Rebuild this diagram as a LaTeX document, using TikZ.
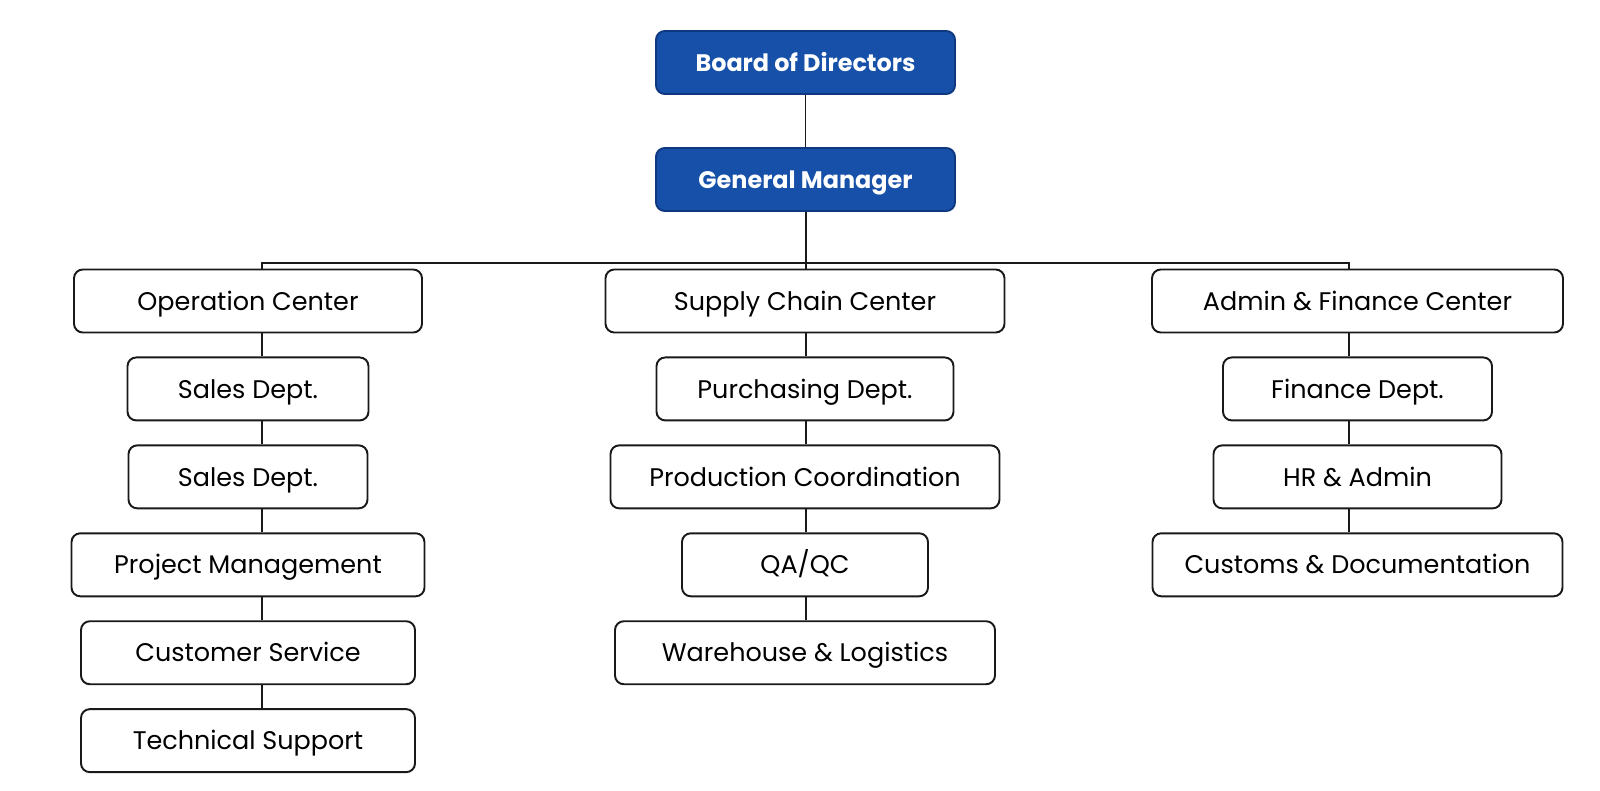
\documentclass[tikz,border=0pt]{standalone}
\usepackage{fontspec}
\setmainfont{Poppins}
\usetikzlibrary{positioning}
\definecolor{boardblue}{RGB}{22,80,168}
\definecolor{boardedge}{RGB}{14,56,128}
\definecolor{lineblack}{RGB}{25,25,25}

\begin{document}
\begin{tikzpicture}[
  node distance=0.46cm,
  box/.style={draw=lineblack, line width=1.1pt, rounded corners=5pt, fill=white,
              minimum height=1.26cm, inner sep=2pt, text height=10.4pt, text depth=0pt,
              font=\fontsize{14.5}{17}\selectfont},
  headbox/.style={box, draw=boardedge, fill=boardblue, text=white, text height=9.8pt,
                  font=\fontsize{13.6}{16}\selectfont\bfseries},
  link/.style={lineblack, line width=1.1pt}
]
\useasboundingbox (0,0) rectangle (32,-15.82);

\node[headbox, minimum width=5.98cm] (board) at (16.11,-1.25) {Board of Directors};
\node[headbox, minimum width=5.98cm] (gm)    at (16.11,-3.59) {General Manager};

\node[box, minimum width=6.96cm] (opc) at (4.96,-6.02) {Operation Center};
\node[box, minimum width=4.82cm, below=of opc]    (sales)  {Sales Dept.};
\node[box, minimum width=4.78cm, below=of sales]  (salesb) {Sales Dept.};
\node[box, minimum width=7.06cm, below=of salesb] (projm)  {Project Management};
\node[box, minimum width=6.68cm, below=of projm]  (custs)  {Customer Service};
\node[box, minimum width=6.68cm, below=of custs]  (techs)  {Technical Support};

\node[box, minimum width=7.98cm] (scc) at (16.10,-6.02) {Supply Chain Center};
\node[box, minimum width=5.94cm, below=of scc]   (purch) {Purchasing Dept.};
\node[box, minimum width=7.78cm, below=of purch] (prodc) {Production Coordination};
\node[box, minimum width=4.92cm, below=of prodc] (qaqc)  {QA/QC};
\node[box, minimum width=7.60cm, below=of qaqc]  (wareh) {Warehouse \& Logistics};

\node[box, minimum width=8.22cm] (afc) at (27.15,-6.02) {Admin \& Finance Center};
\node[box, minimum width=5.38cm, below=of afc]   (fin)    {Finance Dept.};
\node[box, minimum width=5.76cm, below=of fin]   (hradm)  {HR \& Admin};
\node[box, minimum width=8.20cm, below=of hradm] (cusdoc) {Customs \& Documentation};

\coordinate (lspine) at (5.24,-5.26);
\coordinate (mspine) at (16.12,-5.26);
\coordinate (rspine) at (26.98,-5.26);

\draw[link] (board) -- (gm);
\draw[link] (gm.south -| mspine) -- (scc.north -| mspine);
\draw[link] (opc.north -| lspine) -- (lspine) -- (rspine) -- (afc.north -| rspine);

\foreach \a/\b in {opc/sales, sales/salesb, salesb/projm, projm/custs, custs/techs}
  \draw[link] (\a.south -| lspine) -- (\b.north -| lspine);
\foreach \a/\b in {scc/purch, purch/prodc, prodc/qaqc, qaqc/wareh}
  \draw[link] (\a.south -| mspine) -- (\b.north -| mspine);
\foreach \a/\b in {afc/fin, fin/hradm, hradm/cusdoc}
  \draw[link] (\a.south -| rspine) -- (\b.north -| rspine);
\end{tikzpicture}
\end{document}
